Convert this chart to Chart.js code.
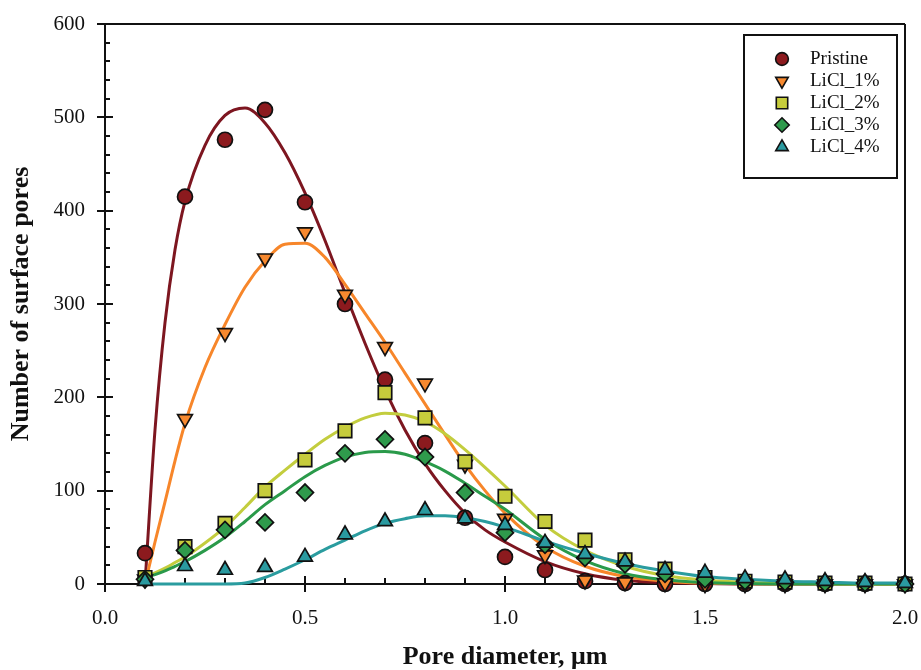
<!DOCTYPE html>
<html>
<head>
<meta charset="utf-8">
<script src="https://cdn.jsdelivr.net/npm/chart.js@4.4.1/dist/chart.umd.min.js"></script>
<style>
  body { margin: 0; background: #fff; }
  #wrap { width: 921px; height: 670px; position: relative; }
</style>
</head>
<body>
<div id="wrap"><canvas id="poreChart"></canvas></div>
<script>
// measured points (pore diameter, um)
const diam = [0.1,0.2,0.3,0.4,0.5,0.6,0.7,0.8,0.9,1.0,1.1,1.2,1.3,1.4,1.5,1.6,1.7,1.8,1.9,2.0];
const pristine = [33,415,476,508,409,300,219,151,71,29,15,3,1,0,0,0,0,0,0,0];
const licl1 = [5,177,269,349,377,310,254,215,128,70,31,4,2,1,0,0,0,0,0,0];
const licl2 = [7,40,65,100,133,164,205,178,131,94,67,47,26,16,7,3,2,1,1,0];
const licl3 = [5,36,58,66,98,140,155,136,98,55,42,28,21,11,5,3,2,1,1,0];
const licl4 = [3,19,15,18,29,53,67,79,70,63,44,32,24,15,12,6,5,3,2,1];

// fitted curves
const fitX = [0.1,0.125,0.15,0.175,0.2,0.25,0.3,0.35,0.4,0.45,0.5,0.55,0.6,0.65,0.7,0.75,0.8,0.85,0.9,0.95,1.0,1.1,1.2,1.3,1.4,1.5,1.6,1.7,1.8,1.9,2.0];
const fitPristine = [0,165,280,358,410,470,502,510,494,462,419,368,312,258,208,165,129,100,76,58,45,24,11,4,1.5,0.5,0,0,0,0,0];
const fitLicl1 = [0,45,88,132,172,232,278,318,346,364,365,350,321,290,259,226,193,160,128,100,76,40,19,8,3,1,0.3,0,0,0,0];
const fitLicl2 = [8,12,17,23,29,44,61,82,104,122,139,155,168,178,183,181,174,161,144,125,105,63,36,19,9,4,2,1,0.3,0,0];
const fitLicl3 = [7,10,14,19,24,36,50,67,85,100,115,127,136,141,142,139,131,121,108,94,80,48,25,11,4.5,1.5,0.5,0,0,0,0];
const fitLicl4 = [0,0,0,0,0,0,0,1,7,16,26,37,47,57,65,70,73,73,71,67,61,46,33,22,14,8,5,3,2,1,1];

const seriesNames = ['Pristine','LiCl_1%','LiCl_2%','LiCl_3%','LiCl_4%'];
const fills = ['#8c1a1e','#f7892f','#c6cc3c','#2f9a4c','#2a9aa0'];
const lineColors = ['#7d1620','#f7862a','#c3cd3e','#2a9a4a','#2a9c9f'];
const styles = ['circle','triangle','rect','rectRot','triangle'];
const rotations = [0,180,0,0,0];
const radii = [7.5,8.5,9.5,8.5,8.5];

const pts = vals => diam.map((x, i) => ({x: x, y: vals[i]}));
const curve = vals => fitX.map((x, i) => ({x: x, y: vals[i]}));
const measured = [pristine, licl1, licl2, licl3, licl4];
const fits = [fitPristine, fitLicl1, fitLicl2, fitLicl3, fitLicl4];

const datasets = [];
measured.forEach((vals, i) => {
  datasets.push({
    label: seriesNames[i], data: pts(vals), showLine: false,
    pointStyle: styles[i], rotation: rotations[i], pointRadius: radii[i], pointHoverRadius: radii[i],
    backgroundColor: fills[i], borderColor: '#111', pointBorderWidth: 1.7, clip: false, order: 5 - i
  });
});
fits.forEach((vals, i) => {
  datasets.push({
    label: seriesNames[i] + ' fit', data: curve(vals), showLine: true, pointRadius: 0,
    borderColor: lineColors[i], borderWidth: 3, cubicInterpolationMode: 'monotone',
    fill: false, clip: false, order: 20 - i
  });
});

const FONT = 'Liberation Serif, Times New Roman, serif';

// axis frame with crossing major ticks and inside minor ticks
const framePlugin = {
  id: 'frame',
  beforeDatasetsDraw(chart) {
    const {ctx, chartArea: a, scales: {x, y}} = chart;
    ctx.save();
    ctx.strokeStyle = '#111';
    ctx.lineWidth = 2;
    ctx.beginPath();
    ctx.moveTo(a.left, a.bottom); ctx.lineTo(a.left, a.top); ctx.lineTo(a.right, a.top);
    ctx.moveTo(a.right, a.top); ctx.lineTo(a.right, a.bottom);
    ctx.moveTo(a.left, a.bottom); ctx.lineTo(a.right, a.bottom);
    for (let v = 0; v <= 600; v += 20) {
      const py = Math.round(y.getPixelForValue(v));
      if (v % 100 === 0) { ctx.moveTo(a.left - 8, py); ctx.lineTo(a.left + 8, py); }
      else { ctx.moveTo(a.left, py); ctx.lineTo(a.left + 5, py); }
    }
    for (let k = 0; k <= 20; k++) {
      const px = Math.round(x.getPixelForValue(k / 10));
      if (k % 5 === 0) { ctx.moveTo(px, a.bottom - 8); ctx.lineTo(px, a.bottom + 8); }
      else { ctx.moveTo(px, a.bottom); ctx.lineTo(px, a.bottom - 6); }
    }
    ctx.stroke();
    ctx.restore();
  }
};

const legendPlugin = {
  id: 'boxLegend',
  afterDraw(chart) {
    const ctx = chart.ctx;
    ctx.save();
    ctx.fillStyle = '#fff';
    ctx.fillRect(744, 35, 153, 143);
    ctx.strokeStyle = '#111';
    ctx.lineWidth = 2;
    ctx.strokeRect(744, 35, 153, 143);
    seriesNames.forEach((name, i) => {
      const cy = 59 + i * 22;
      ctx.fillStyle = fills[i];
      ctx.strokeStyle = '#111';
      ctx.lineWidth = 1.6;
      Chart.helpers.drawPoint(ctx, {pointStyle: styles[i], rotation: rotations[i], radius: radii[i] * 0.85, borderWidth: 1.6}, 782, cy);
      ctx.fillStyle = '#111';
      ctx.font = '19px ' + FONT;
      ctx.textBaseline = 'middle';
      ctx.textAlign = 'left';
      ctx.fillText(name, 810, cy);
    });
    ctx.restore();
  }
};

new Chart(document.getElementById('poreChart'), {
  type: 'scatter',
  data: {datasets: datasets},
  options: {
    responsive: true, maintainAspectRatio: false, animation: false,
    layout: {padding: {top: 24, right: 16, left: 0, bottom: 0}},
    plugins: {legend: {display: false}, tooltip: {enabled: false}},
    scales: {
      x: {
        type: 'linear', min: 0, max: 2,
        grid: {display: false, drawTicks: false}, border: {display: false},
        ticks: {stepSize: 0.5, padding: 22, color: '#111', font: {family: FONT, size: 21}, callback: v => v.toFixed(1)},
        title: {display: true, text: 'Pore diameter, \u03bcm', color: '#111', font: {family: FONT, size: 26, weight: 'bold'}, padding: {top: 0, bottom: -3}},
        afterFit: s => { s.height = 86; s.paddingLeft = 0; s.paddingRight = 0; }
      },
      y: {
        min: 0, max: 600,
        grid: {display: false, drawTicks: false}, border: {display: false},
        ticks: {stepSize: 100, padding: 20, color: '#111', font: {family: FONT, size: 21}},
        title: {display: true, text: 'Number of surface pores', color: '#111', font: {family: FONT, size: 26, weight: 'bold'}, padding: {top: 6, bottom: 0}},
        afterFit: s => { s.width = 105; s.paddingTop = 0; s.paddingBottom = 0; }
      }
    }
  },
  plugins: [framePlugin, legendPlugin]
});
</script>
</body>
</html>
